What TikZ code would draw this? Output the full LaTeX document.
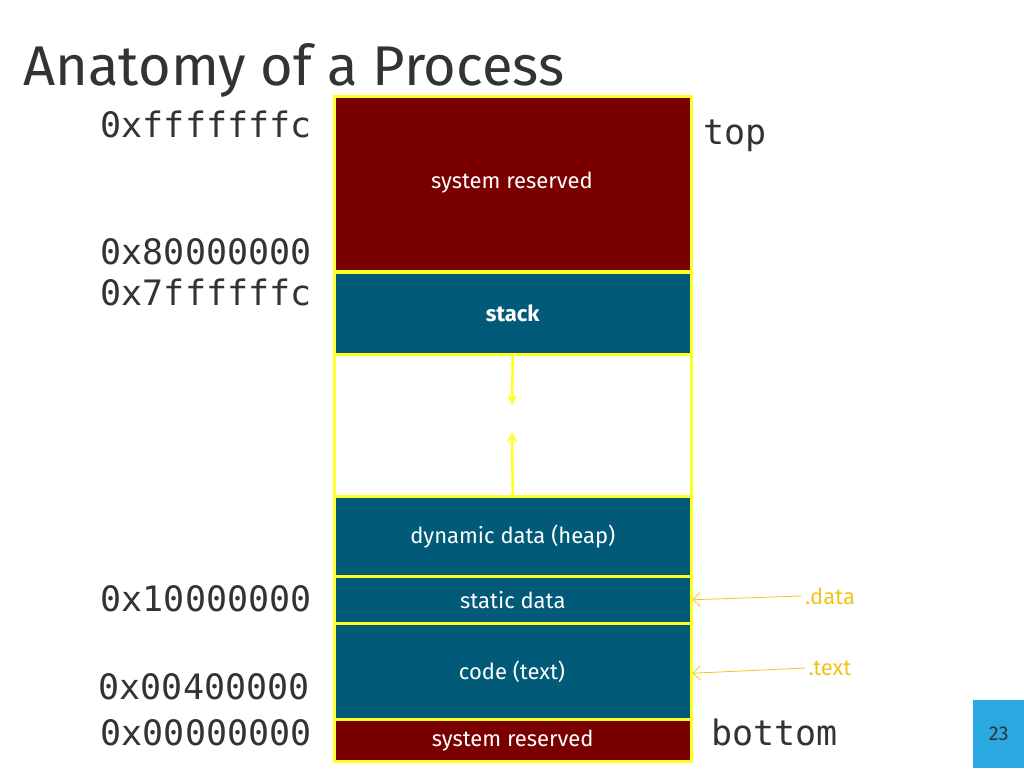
\documentclass[tikz,border=0pt]{standalone}
\usepackage{fontspec}
\setmainfont{Fira Sans}
\newfontfamily\addrfont{DejaVu Sans Mono}
\usetikzlibrary{positioning,arrows.meta}
\definecolor{resred}{HTML}{7A0000}
\definecolor{segblue}{HTML}{005A78}
\definecolor{memyellow}{HTML}{FFFF22}
\definecolor{lblgold}{HTML}{F2C31A}
\definecolor{pageblue}{HTML}{2AA8E0}
\begin{document}
\begin{tikzpicture}[x=1pt, y=-1pt,
    seg/.style={rectangle, draw=memyellow, line width=2.5pt, fill=segblue, text=white, minimum width=357pt, anchor=north west, inner sep=0pt, font=\fontsize{22}{24}\selectfont},
    addr/.style={anchor=base east, font=\addrfont\fontsize{35}{36}\selectfont, text=black!80},
    sect/.style={text=lblgold, font=\fontsize{22}{24}\selectfont},
    growth/.style={-{Stealth[length=10pt,width=10pt]}, memyellow, line width=2.5pt},
    point/.style={-{Straight Barb[length=7pt]}, lblgold, line width=0.8pt}]

    \useasboundingbox (0,0) rectangle (1024,768);

    \node[anchor=base west, font=\fontsize{56}{60}\selectfont, text=black!80] (title) at (20,85) {Anatomy of a Process};

    \node[seg, fill=resred, minimum height=175pt] (sysres) at (333,95) {};
    \node[white, font=\fontsize{22}{24}\selectfont] at (512,183) {system reserved};
    \node[seg, minimum height=82pt, font=\bfseries\fontsize{22}{24}\selectfont] (stack) at (333,271) {stack};
    \node[seg, fill=white, minimum height=142pt] (free) at (333,353) {};
    \node[seg, minimum height=80pt] (heap) at (333,495) {dynamic data (heap)};
    \node[seg, minimum height=47pt] (static) at (333,575) {static data};
    \node[seg, minimum height=96pt] (code) at (333,622) {};
    \node[white, font=\fontsize{22}{24}\selectfont] at (512,672) {code (text)};
    \node[seg, fill=resred, minimum height=42pt] (lowres) at (333,718) {system reserved};

    \coordinate (stackend) at (512,405);
    \coordinate (heapend) at (512,432);
    \draw[growth] (stack.south) -- (stackend);
    \draw[growth] (heap.north) -- (heapend);

    \node[addr] at (315,137) {0xfffffffc};
    \node[addr] at (315,264) {0x80000000};
    \node[addr] at (315,305) {0x7ffffffc};
    \node[addr] at (315,611) {0x10000000};
    \node[addr] at (313,699) {0x00400000};
    \node[addr] at (315,745) {0x00000000};
    \node[anchor=base west, font=\addrfont\fontsize{35}{36}\selectfont, text=black!80] at (700,144) {top};
    \node[anchor=base west, font=\addrfont\fontsize{35}{36}\selectfont, text=black!80] at (708,745) {bottom};

    \node[sect] (data) at (830,596) {.data};
    \node[sect] (text) at (830,668) {.text};
    \draw[point] (data.west) -- (static.east);
    \draw[point] (text.west) -- ([yshift=-2pt]code.east);

    \node[rectangle, fill=pageblue, minimum width=51pt, minimum height=68pt, anchor=north west, font=\fontsize{20}{22}\selectfont, text=black!80] (page) at (973,700) {23};
\end{tikzpicture}
\end{document}
